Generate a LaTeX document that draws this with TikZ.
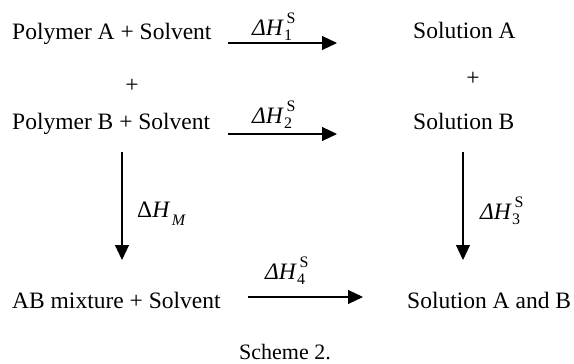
\documentclass[tikz,border=0pt]{standalone}
\usepackage{fontspec}
\setmainfont{Liberation Serif}
\usetikzlibrary{arrows.meta}
\newcommand\scfont{\fontsize{16}{17}\selectfont}
\newcommand\dHs[1]{\textit{ΔH}\rlap{\kern2.5pt\raisebox{0.48em}{\scfont S}}\raisebox{-0.22em}{\scfont #1}}
\tikzset{
  txt/.style={inner sep=0pt, anchor=base west, font=\fontsize{23.5}{28}\selectfont},
  lbl/.style={inner sep=0pt, anchor=base west, font=\fontsize{23.5}{28}\selectfont},
  arr/.style={-{Triangle[length=15pt,width=14pt]}, line width=1.1pt},
}
\begin{document}
\begin{tikzpicture}[x=1pt,y=1pt]
\useasboundingbox (0,0) rectangle (574,-364);
% texts
\node[txt] (pa) at (12,-39) {Polymer A + Solvent};
\node[txt, anchor=center] (plusL) at (132,-86) {+};
\node[txt] (pb) at (12,-129) {Polymer B + Solvent};
\node[txt] (sa) at (413,-38) {Solution A};
\node[txt, anchor=center] (plusR) at (473,-79) {+};
\node[txt] (sb) at (413,-129) {Solution B};
\node[txt] (ab) at (12,-308) {AB mixture + Solvent};
\node[txt] (sab) at (407,-308) {Solution A and B};
\node[inner sep=0pt, anchor=base, font=\fontsize{22}{26}\selectfont] (cap) at (285,-359) {Scheme 2.};
% arrow ends
\coordinate (a1s) at (228,-43);  \coordinate (a1e) at (337,-43);
\coordinate (a2s) at (228,-134); \coordinate (a2e) at (337,-134);
\coordinate (a4s) at (248,-297); \coordinate (a4e) at (363,-297);
\coordinate (vls) at (122,-152); \coordinate (vle) at (122,-260);
\coordinate (vrs) at (463,-152); \coordinate (vre) at (463,-260);
\draw[arr] (a1s) -- (a1e);
\draw[arr] (a2s) -- (a2e);
\draw[arr] (a4s) -- (a4e);
\draw[arr] (vls) -- (vle);
\draw[arr] (vrs) -- (vre);
% labels
\node[lbl] (l1) at (252,-35) {\dHs{1}};
\node[lbl] (l2) at (252,-123) {\dHs{2}};
\node[lbl] (l3) at (480,-219) {\dHs{3}};
\node[lbl] (l4) at (265,-279) {\dHs{4}};
\node[lbl] (lm) at (137,-217) {Δ\textit{H}\kern1.5pt\raisebox{-0.35em}{\scfont\itshape M}};
\end{tikzpicture}
\end{document}
